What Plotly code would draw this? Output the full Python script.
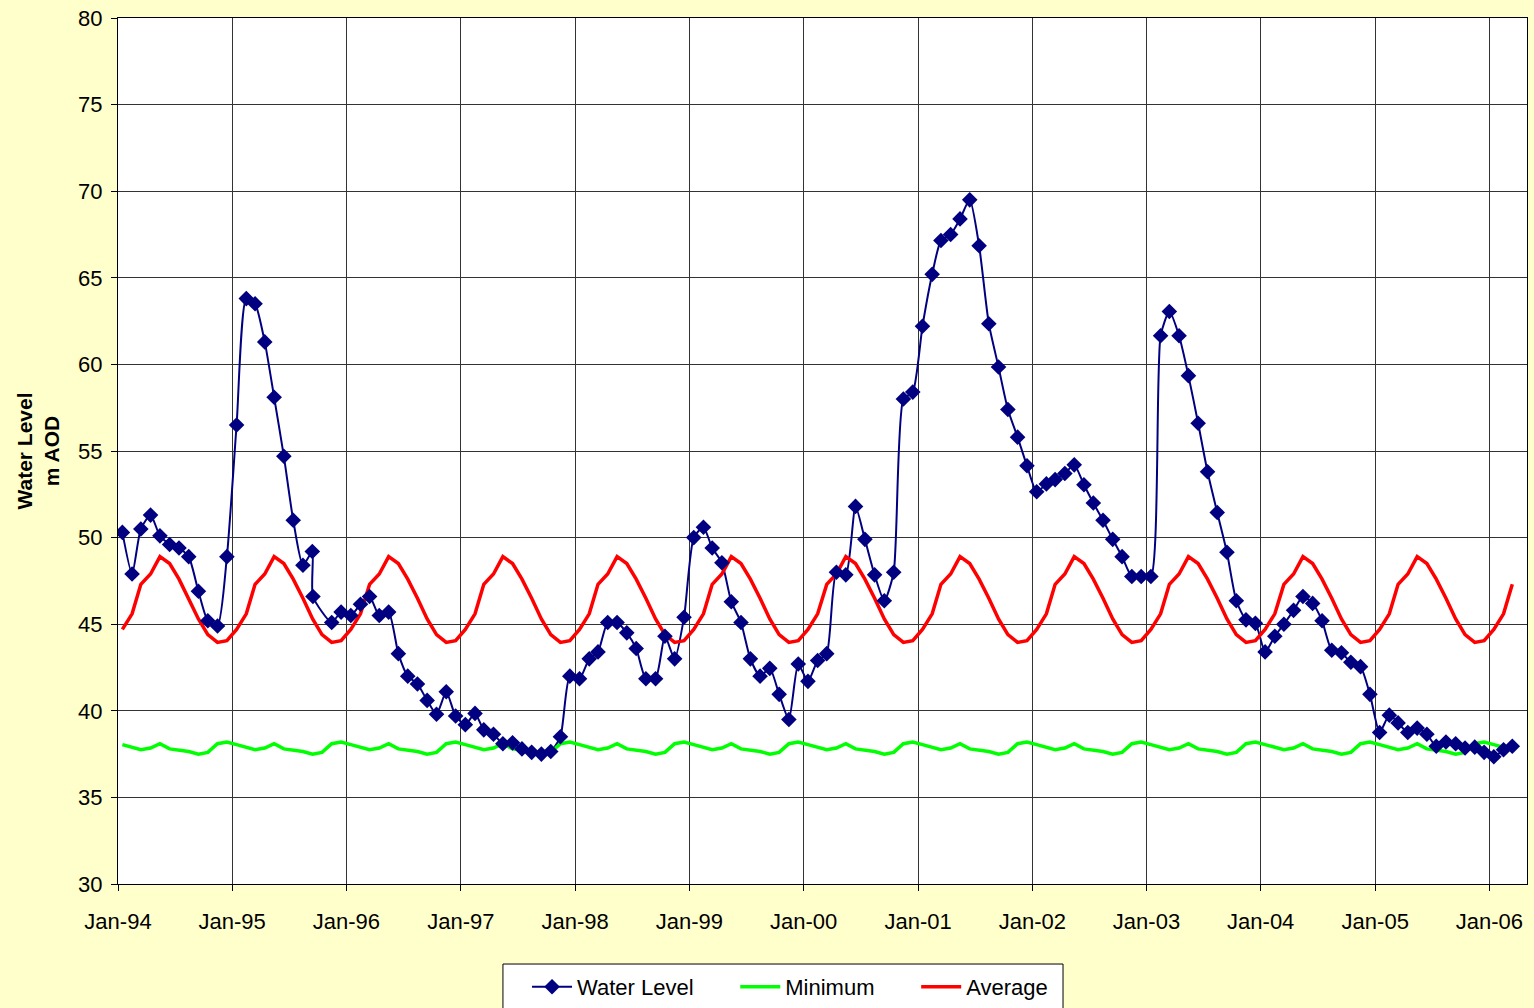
import plotly.graph_objects as go

# ---------------- data ----------------
WATER_DATES = [
    "1994-01-15", "1994-02-15", "1994-03-15", "1994-04-15", "1994-05-15", "1994-06-15",
    "1994-07-15", "1994-08-15", "1994-09-15", "1994-10-15", "1994-11-15", "1994-12-15",
    "1995-01-15", "1995-02-15", "1995-03-15", "1995-04-15", "1995-05-15", "1995-06-15",
    "1995-07-15", "1995-08-15", "1995-09-14", "1995-09-16", "1995-11-15", "1995-12-15",
    "1996-01-15", "1996-02-15", "1996-03-15", "1996-04-15", "1996-05-15", "1996-06-15",
    "1996-07-15", "1996-08-15", "1996-09-15", "1996-10-15", "1996-11-15", "1996-12-15",
    "1997-01-15", "1997-02-15", "1997-03-15", "1997-04-15", "1997-05-15", "1997-06-15",
    "1997-07-15", "1997-08-15", "1997-09-15", "1997-10-15", "1997-11-15", "1997-12-15",
    "1998-01-15", "1998-02-15", "1998-03-15", "1998-04-15", "1998-05-15", "1998-06-15",
    "1998-07-15", "1998-08-15", "1998-09-15", "1998-10-15", "1998-11-15", "1998-12-15",
    "1999-01-15", "1999-02-15", "1999-03-15", "1999-04-15", "1999-05-15", "1999-06-15",
    "1999-07-15", "1999-08-15", "1999-09-15", "1999-10-15", "1999-11-15", "1999-12-15",
    "2000-01-15", "2000-02-15", "2000-03-15", "2000-04-15", "2000-05-15", "2000-06-15",
    "2000-07-15", "2000-08-15", "2000-09-15", "2000-10-15", "2000-11-15", "2000-12-15",
    "2001-01-15", "2001-02-15", "2001-03-15", "2001-04-15", "2001-05-15", "2001-06-15",
    "2001-07-15", "2001-08-15", "2001-09-15", "2001-10-15", "2001-11-15", "2001-12-15",
    "2002-01-15", "2002-02-15", "2002-03-15", "2002-04-15", "2002-05-15", "2002-06-15",
    "2002-07-15", "2002-08-15", "2002-09-15", "2002-10-15", "2002-11-15", "2002-12-15",
    "2003-01-15", "2003-02-15", "2003-03-15", "2003-04-15", "2003-05-15", "2003-06-15",
    "2003-07-15", "2003-08-15", "2003-09-15", "2003-10-15", "2003-11-15", "2003-12-15",
    "2004-01-15", "2004-02-15", "2004-03-15", "2004-04-15", "2004-05-15", "2004-06-15",
    "2004-07-15", "2004-08-15", "2004-09-15", "2004-10-15", "2004-11-15", "2004-12-15",
    "2005-01-15", "2005-02-15", "2005-03-15", "2005-04-15", "2005-05-15", "2005-06-15",
    "2005-07-15", "2005-08-15", "2005-09-15", "2005-10-15", "2005-11-15", "2005-12-15",
    "2006-01-15", "2006-02-15", "2006-03-15",
]

WATER_LEVEL = [
    50.3, 47.9, 50.5, 51.3, 50.1, 49.6, 49.4, 48.9, 46.9, 45.2, 44.9, 48.9,
    56.5, 63.8, 63.5, 61.3, 58.1, 54.7, 51.0, 48.4, 49.2, 46.6, 45.1, 45.7,
    45.5, 46.15, 46.6, 45.5, 45.7, 43.3, 42.0, 41.55, 40.6, 39.8, 41.1, 39.7,
    39.2, 39.85, 38.9, 38.65, 38.1, 38.15, 37.8, 37.6, 37.5, 37.65, 38.5, 42.0,
    41.85, 43.0, 43.4, 45.1, 45.1, 44.5, 43.6, 41.85, 41.85, 44.3, 43.0, 45.4,
    50.0, 50.6, 49.4, 48.55, 46.3, 45.1, 43.0, 42.0, 42.45, 40.95, 39.5, 42.7,
    41.7, 42.9, 43.3, 48.0, 47.85, 51.8, 49.9, 47.85, 46.35, 48.0, 58.0, 58.4,
    62.2, 65.2, 67.15, 67.5, 68.4, 69.5, 66.85, 62.35, 59.85, 57.4, 55.8, 54.15,
    52.65, 53.1, 53.35, 53.7, 54.2, 53.05, 52.0, 51.0, 49.9, 48.9, 47.75, 47.75,
    47.75, 61.65, 63.05, 61.65, 59.35, 56.6, 53.8, 51.45, 49.15, 46.35, 45.25, 45.05,
    43.4, 44.3, 45.0, 45.8, 46.6, 46.2, 45.2, 43.5, 43.35, 42.8, 42.55, 40.95,
    38.75, 39.75, 39.3, 38.75, 39.0, 38.65, 37.95, 38.2, 38.1, 37.85, 37.9, 37.6,
    37.35, 37.75, 37.95,
]

MONTHLY_DATES = [f"{y}-{m:02d}-15" for y in range(1994, 2007) for m in range(1, 13)][:147]

MINIMUM = [
    38.05, 37.9, 37.75, 37.85, 38.1, 37.8, 37.75, 37.65, 37.5, 37.6, 38.1, 38.2,
    38.05, 37.9, 37.75, 37.85, 38.1, 37.8, 37.75, 37.65, 37.5, 37.6, 38.1, 38.2,
    38.05, 37.9, 37.75, 37.85, 38.1, 37.8, 37.75, 37.65, 37.5, 37.6, 38.1, 38.2,
    38.05, 37.9, 37.75, 37.85, 38.1, 37.8, 37.75, 37.65, 37.5, 37.6, 38.1, 38.2,
    38.05, 37.9, 37.75, 37.85, 38.1, 37.8, 37.75, 37.65, 37.5, 37.6, 38.1, 38.2,
    38.05, 37.9, 37.75, 37.85, 38.1, 37.8, 37.75, 37.65, 37.5, 37.6, 38.1, 38.2,
    38.05, 37.9, 37.75, 37.85, 38.1, 37.8, 37.75, 37.65, 37.5, 37.6, 38.1, 38.2,
    38.05, 37.9, 37.75, 37.85, 38.1, 37.8, 37.75, 37.65, 37.5, 37.6, 38.1, 38.2,
    38.05, 37.9, 37.75, 37.85, 38.1, 37.8, 37.75, 37.65, 37.5, 37.6, 38.1, 38.2,
    38.05, 37.9, 37.75, 37.85, 38.1, 37.8, 37.75, 37.65, 37.5, 37.6, 38.1, 38.2,
    38.05, 37.9, 37.75, 37.85, 38.1, 37.8, 37.75, 37.65, 37.5, 37.6, 38.1, 38.2,
    38.05, 37.9, 37.75, 37.85, 38.1, 37.8, 37.75, 37.65, 37.5, 37.6, 38.1, 38.2,
    38.05, 37.9, 37.75,
]

AVERAGE = [
    44.7, 45.6, 47.3, 47.9, 48.9, 48.5, 47.6, 46.5, 45.3, 44.4, 43.95, 44.05,
    44.7, 45.6, 47.3, 47.9, 48.9, 48.5, 47.6, 46.5, 45.3, 44.4, 43.95, 44.05,
    44.7, 45.6, 47.3, 47.9, 48.9, 48.5, 47.6, 46.5, 45.3, 44.4, 43.95, 44.05,
    44.7, 45.6, 47.3, 47.9, 48.9, 48.5, 47.6, 46.5, 45.3, 44.4, 43.95, 44.05,
    44.7, 45.6, 47.3, 47.9, 48.9, 48.5, 47.6, 46.5, 45.3, 44.4, 43.95, 44.05,
    44.7, 45.6, 47.3, 47.9, 48.9, 48.5, 47.6, 46.5, 45.3, 44.4, 43.95, 44.05,
    44.7, 45.6, 47.3, 47.9, 48.9, 48.5, 47.6, 46.5, 45.3, 44.4, 43.95, 44.05,
    44.7, 45.6, 47.3, 47.9, 48.9, 48.5, 47.6, 46.5, 45.3, 44.4, 43.95, 44.05,
    44.7, 45.6, 47.3, 47.9, 48.9, 48.5, 47.6, 46.5, 45.3, 44.4, 43.95, 44.05,
    44.7, 45.6, 47.3, 47.9, 48.9, 48.5, 47.6, 46.5, 45.3, 44.4, 43.95, 44.05,
    44.7, 45.6, 47.3, 47.9, 48.9, 48.5, 47.6, 46.5, 45.3, 44.4, 43.95, 44.05,
    44.7, 45.6, 47.3, 47.9, 48.9, 48.5, 47.6, 46.5, 45.3, 44.4, 43.95, 44.05,
    44.7, 45.6, 47.3,
]

X_TICKS = [f"{y}-01-01" for y in range(1994, 2007)]
X_TICK_LABELS = ["Jan-94", "Jan-95", "Jan-96", "Jan-97", "Jan-98", "Jan-99", "Jan-00",
                 "Jan-01", "Jan-02", "Jan-03", "Jan-04", "Jan-05", "Jan-06"]

SERIES_NAMES = ["Water Level", "Minimum", "Average"]

# ---------------- figure ----------------
FONT = "Arial, 'Liberation Sans', sans-serif"
PAD = "\u00a0" * 6
NAVY, GREEN, RED = "#000080", "#00FF00", "#FF0000"

fig = go.Figure()
# water-level line (drawn first, under the other lines)
fig.add_trace(go.Scatter(
    x=WATER_DATES, y=WATER_LEVEL, name=SERIES_NAMES[0], mode="lines", showlegend=False,
    line=dict(color=NAVY, width=2, shape="spline", smoothing=0.6), hoverinfo="skip",
))
fig.add_trace(go.Scatter(
    x=MONTHLY_DATES, y=MINIMUM, name=SERIES_NAMES[1] + PAD, mode="lines",
    line=dict(color=GREEN, width=3.5), legendrank=2,
))
fig.add_trace(go.Scatter(
    x=MONTHLY_DATES, y=AVERAGE, name=SERIES_NAMES[2], mode="lines",
    line=dict(color=RED, width=3.5), legendrank=3,
))
# water-level markers on top of all lines
fig.add_trace(go.Scatter(
    x=WATER_DATES, y=WATER_LEVEL, name=SERIES_NAMES[0], mode="markers", showlegend=False,
    marker=dict(symbol="diamond", size=12, color=NAVY),
))
# legend entry for water level (line + diamond)
fig.add_trace(go.Scatter(
    x=[None], y=[None], name=SERIES_NAMES[0] + PAD, mode="lines+markers",
    line=dict(color=NAVY, width=2),
    marker=dict(symbol="diamond", size=12, color=NAVY), legendrank=1,
))

fig.update_layout(
    width=1534, height=1008,
    paper_bgcolor="#FFFFCC", plot_bgcolor="#FFFFFF",
    margin=dict(l=118, r=7, t=18, b=124, autoexpand=False),
    font=dict(family=FONT, size=22, color="#000000"),
    showlegend=True,
    legend=dict(
        orientation="h", x=0.2903, xanchor="left", y=-0.0947, yanchor="top",
        bgcolor="rgba(0,0,0,0)", borderwidth=0,
        font=dict(family=FONT, size=22), itemwidth=40,
        traceorder="normal",
    ),
    shapes=[dict(
        type="rect", xref="paper", yref="paper",
        x0=0.2732, x1=0.6707, y0=-0.1455, y1=-0.0924,
        line=dict(color="#000000", width=1), fillcolor="#FFFFFF", layer="below",
    )],
)
fig.update_xaxes(
    type="date", range=["1994-01-01", "2006-05-01"],
    tickvals=X_TICKS, ticktext=X_TICK_LABELS,
    ticks="outside", ticklen=6, tickcolor="#000000",
    ticklabelstandoff=12, automargin=False,
    showgrid=True, gridcolor="#333333", gridwidth=1,
    showline=True, linecolor="#000000", linewidth=1, mirror=True,
    tickfont=dict(size=22), zeroline=False,
)
fig.update_yaxes(
    range=[30, 80], dtick=5, tick0=30,
    ticks="outside", ticklen=6, tickcolor="#000000",
    ticklabelstandoff=4, automargin=False,
    showgrid=True, gridcolor="#333333", gridwidth=1,
    showline=True, linecolor="#000000", linewidth=1, mirror=True,
    tickfont=dict(size=22), zeroline=False,
    title=dict(text="<b>Water Level<br>m AOD</b>", font=dict(size=21), standoff=12),
)

fig.write_html("out.html", post_script="document.body.style.margin='0';",
               config={"displayModeBar": False})
